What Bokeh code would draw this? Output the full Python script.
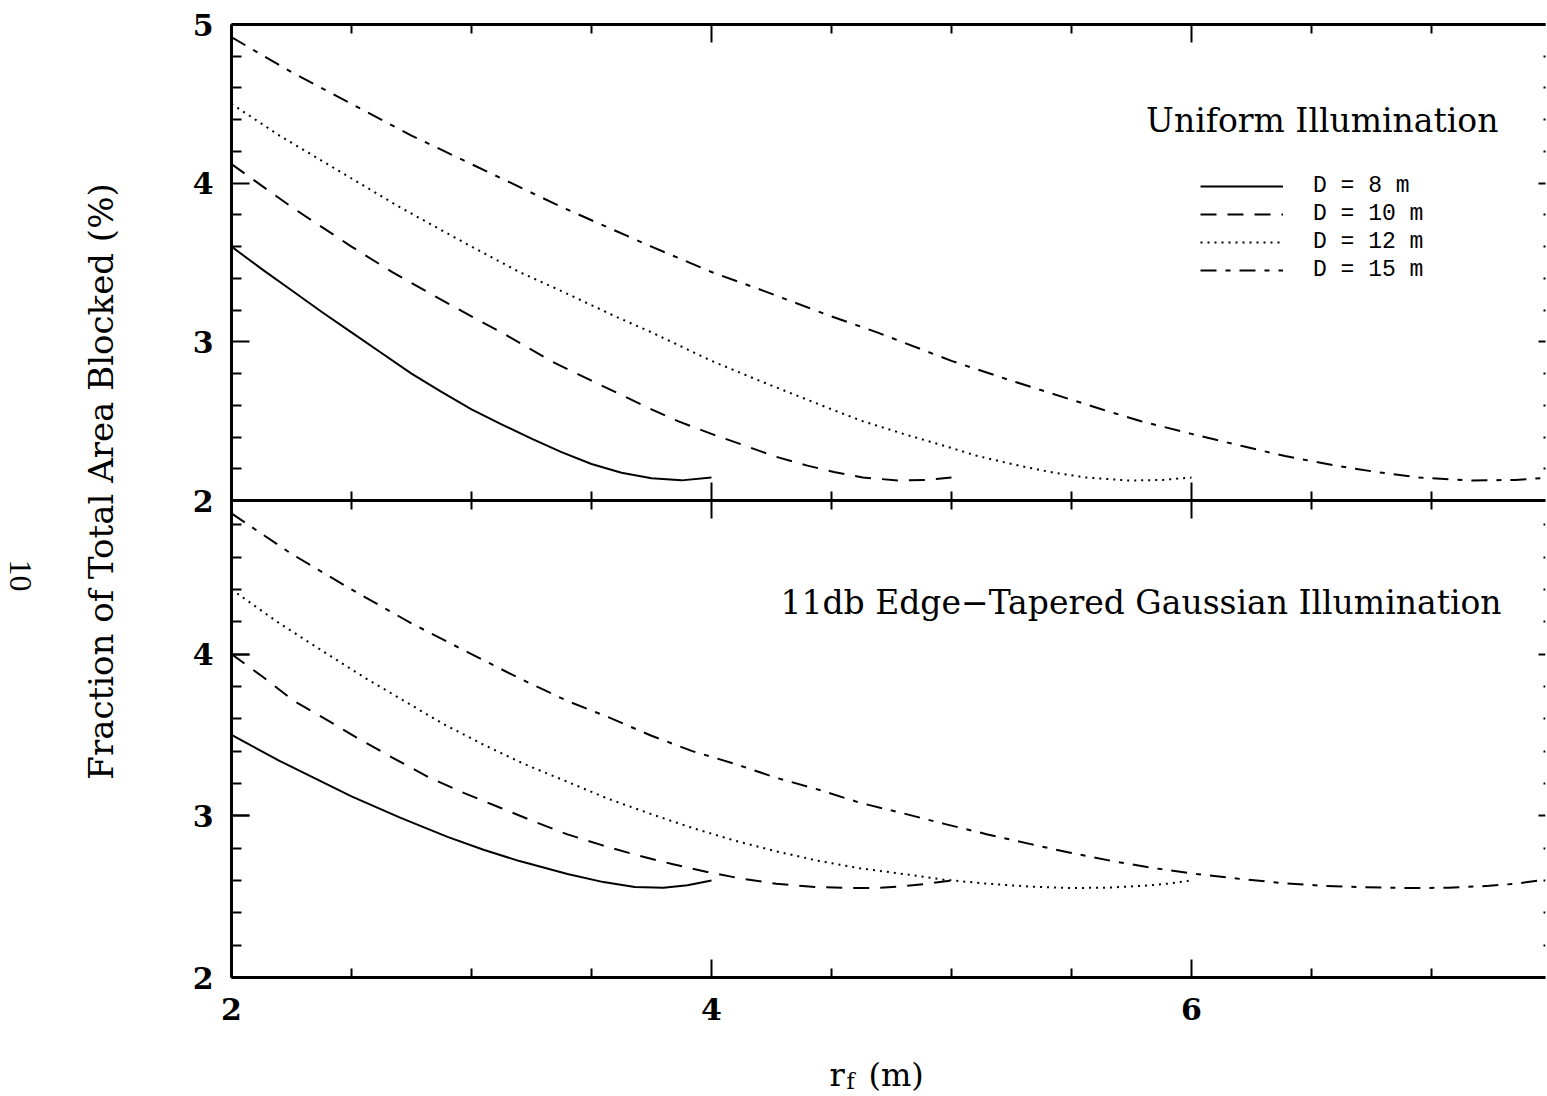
import math
from bokeh.plotting import figure
from bokeh.models import Range1d, LinearAxis, FixedTicker, Label, Legend, LegendItem
from bokeh.layouts import row, column
from bokeh.embed import file_html
from bokeh.resources import INLINE

# ---------------- data ----------------
series_labels = ["D = 8 m", "D = 10 m", "D = 12 m", "D = 15 m"]

# Uniform illumination (upper panel)
u8_x = [2.0, 2.125, 2.25, 2.375, 2.5, 2.625, 2.75, 2.875, 3.0, 3.125, 3.25, 3.375, 3.5, 3.625, 3.75, 3.875, 4.0]
u8_y = [3.60, 3.46, 3.325, 3.19, 3.06, 2.93, 2.80, 2.685, 2.575, 2.48, 2.39, 2.305, 2.23, 2.175, 2.14, 2.127, 2.145]
u10_x = [2.0, 2.25, 2.5, 2.67, 2.81, 3.0, 3.125, 3.33, 3.5, 3.75, 3.86, 4.0, 4.15, 4.26, 4.4, 4.51, 4.63, 4.78, 4.9, 5.0]
u10_y = [4.12, 3.85, 3.60, 3.44, 3.32, 3.16, 3.06, 2.88, 2.755, 2.575, 2.50, 2.42, 2.34, 2.28, 2.22, 2.18, 2.145, 2.126, 2.13, 2.145]
u12_x = [2.0, 2.2, 2.4, 2.7, 3.0, 3.2, 3.375, 3.6, 3.75, 4.0, 4.2, 4.5, 4.63, 4.8, 4.98, 5.11, 5.28, 5.41, 5.56, 5.74, 5.88, 6.0]
u12_y = [4.50, 4.30, 4.12, 3.85, 3.60, 3.44, 3.32, 3.16, 3.06, 2.88, 2.755, 2.575, 2.50, 2.42, 2.34, 2.28, 2.22, 2.18, 2.145, 2.126, 2.13, 2.145]
u15_x = [2.0, 2.25, 2.5, 2.75, 3.0, 3.375, 3.75, 4.0, 4.22, 4.5, 4.69, 5.0, 5.25, 5.625, 5.79, 6.0, 6.22, 6.39, 6.6, 6.77, 6.95, 7.17, 7.35, 7.5]
u15_y = [4.92, 4.70, 4.50, 4.30, 4.12, 3.85, 3.60, 3.44, 3.32, 3.16, 3.06, 2.88, 2.755, 2.575, 2.50, 2.42, 2.34, 2.28, 2.22, 2.18, 2.145, 2.126, 2.13, 2.145]

# 11db edge-tapered Gaussian illumination (lower panel)
g8_x = [2.0, 2.2, 2.35, 2.5, 2.7, 2.9, 3.05, 3.2, 3.4, 3.55, 3.68, 3.8, 3.9, 4.0]
g8_y = [3.50, 3.34, 3.23, 3.12, 2.99, 2.87, 2.79, 2.72, 2.64, 2.59, 2.56, 2.555, 2.57, 2.60]
g10_x = [2.0, 2.13, 2.26, 2.39, 2.52, 2.67, 2.82, 2.97, 3.12, 3.26, 3.4, 3.54, 3.68, 3.84, 3.99,
         4.13, 4.27, 4.43, 4.59, 4.7, 4.8, 4.9, 5.0]
g10_y = [4.00, 3.86, 3.71, 3.60, 3.485, 3.36, 3.24, 3.14, 3.05, 2.965, 2.885, 2.82, 2.76, 2.70, 2.65,
         2.61, 2.58, 2.56, 2.553, 2.555, 2.565, 2.58, 2.60]
g12_x = [2.0, 2.2, 2.4, 2.56, 2.72, 2.88, 3.05, 3.22, 3.4, 3.57, 3.75, 3.92, 4.1, 4.27, 4.45, 4.62,
         4.8, 4.97, 5.15, 5.33, 5.5, 5.65, 5.8, 5.9, 6.0]
g12_y = [4.40, 4.19, 4.00, 3.85, 3.71, 3.57, 3.44, 3.32, 3.21, 3.105, 3.01, 2.925, 2.845, 2.78, 2.72, 2.675,
         2.64, 2.605, 2.58, 2.562, 2.553, 2.556, 2.567, 2.58, 2.60]
g15_x = [2.0, 2.25, 2.5, 2.75, 3.0, 3.2, 3.4, 3.57, 3.75, 3.92, 4.1, 4.27, 4.45, 4.62, 4.8, 4.97,
         5.15, 5.33, 5.5, 5.67, 5.85, 6.02, 6.2, 6.37, 6.55, 6.72, 6.9, 7.07, 7.24, 7.35, 7.5]
g15_y = [4.87, 4.62, 4.40, 4.19, 4.00, 3.85, 3.71, 3.61, 3.495, 3.40, 3.32, 3.235, 3.16, 3.08, 3.015, 2.95,
         2.885, 2.825, 2.77, 2.72, 2.675, 2.64, 2.61, 2.585, 2.567, 2.558, 2.553, 2.555, 2.567, 2.58, 2.61]

# ticks
x_major = [2, 4, 6]
x_minor = [2.5, 3, 3.5, 4.5, 5, 5.5, 6.5, 7]
top_y_major = [2, 3, 4, 5]
bot_y_major = [2, 3, 4]
y_minor = [2.2, 2.4, 2.6, 2.8, 3.2, 3.4, 3.6, 3.8, 4.2, 4.4, 4.6, 4.8]

# ---------------- main figure ----------------
X_START, X_END = 2.0, 7.475
TOP_RANGE = (-1.006, 5.0)      # upper-panel scale (2..5 fills the upper half)
BOT_RANGE = (2.0, 7.894)       # lower-panel scale (2..4.95 fills the lower half)

y_main = Range1d(*TOP_RANGE)
p = figure(width=1399, height=1037,
           x_range=Range1d(X_START, X_END), y_range=y_main,
           x_axis_type=None, y_axis_type=None,
           toolbar_location=None, output_backend="svg",
           min_border_left=83, min_border_right=2, min_border_top=24, min_border_bottom=60,
           outline_line_color=None, background_fill_color="white", border_fill_color="white")
p.extra_y_ranges = {"bot": Range1d(*BOT_RANGE)}

TICK_FONT = "DejaVu Serif"


def style(ax, labels, major_in=18, minor_in=10, major_out=0, minor_out=0, line=True, standoff=18):
    ax.axis_line_width = 3
    ax.axis_line_color = "black" if line else None
    ax.major_tick_in = major_in
    ax.major_tick_out = major_out
    ax.minor_tick_in = minor_in
    ax.minor_tick_out = minor_out
    ax.major_tick_line_width = 2
    ax.minor_tick_line_width = 2
    ax.major_tick_line_color = "black"
    ax.minor_tick_line_color = "black"
    if labels:
        ax.major_label_text_font = TICK_FONT
        ax.major_label_text_font_style = "bold"
        ax.major_label_text_font_size = "30px"
        ax.major_label_text_color = "black"
        ax.major_label_standoff = standoff
    else:
        ax.major_label_standoff = 0
        ax.major_label_text_font_size = "0px"


def hide(ticks):
    return {t: "" for t in ticks}


def bot_to_top(v):
    """Position of a lower-panel value on the main (upper-panel) scale."""
    frac = (v - BOT_RANGE[0]) / (BOT_RANGE[1] - BOT_RANGE[0])
    return TOP_RANGE[0] + frac * (TOP_RANGE[1] - TOP_RANGE[0])


# left axis carrying all tick labels (upper + lower panel)
bot_pos = [bot_to_top(v) for v in bot_y_major]
left_overrides = {t: str(t) for t in top_y_major}
left_overrides.update({pos: str(v) for pos, v in zip(bot_pos, bot_y_major)})
ax = LinearAxis(ticker=FixedTicker(ticks=top_y_major + bot_pos, minor_ticks=y_minor),
                major_label_overrides=left_overrides)
style(ax, True, standoff=18)
p.add_layout(ax, "left")
# lower-panel minor ticks on the left edge
ax = LinearAxis(y_range_name="bot", fixed_location=X_START,
                ticker=FixedTicker(ticks=bot_y_major, minor_ticks=y_minor),
                major_label_overrides=hide(bot_y_major))
style(ax, False)
p.add_layout(ax, "left")

# right axes (inward ticks only)
ax = LinearAxis(ticker=FixedTicker(ticks=top_y_major, minor_ticks=y_minor),
                major_label_overrides=hide(top_y_major))
style(ax, False, major_in=7, minor_in=2, line=False)
p.add_layout(ax, "right")
ax = LinearAxis(y_range_name="bot", fixed_location=X_END,
                ticker=FixedTicker(ticks=bot_y_major, minor_ticks=y_minor),
                major_label_overrides=hide(bot_y_major))
style(ax, False, major_in=7, minor_in=2, line=False)
p.add_layout(ax, "right")

# bottom axis with labels
ax = LinearAxis(ticker=FixedTicker(ticks=x_major, minor_ticks=x_minor))
style(ax, True, major_in=18, minor_in=9, standoff=20)
p.add_layout(ax, "below")
# top axis
ax = LinearAxis(ticker=FixedTicker(ticks=x_major, minor_ticks=x_minor),
                major_label_overrides=hide(x_major))
style(ax, False, major_in=18, minor_in=9)
p.add_layout(ax, "above")
# middle dividing axis (ticks both ways)
ax = LinearAxis(fixed_location=2.0, ticker=FixedTicker(ticks=x_major, minor_ticks=x_minor),
                major_label_overrides=hide(x_major))
style(ax, False, major_in=18, minor_in=9, major_out=18, minor_out=9)
p.add_layout(ax, "above")

# ---------------- curves ----------------
dashes = ["solid", "16 11", "2 5", "16 9 5 9"]
upper = [(u8_x, u8_y), (u10_x, u10_y), (u12_x, u12_y), (u15_x, u15_y)]
lower = [(g8_x, g8_y), (g10_x, g10_y), (g12_x, g12_y), (g15_x, g15_y)]

top_renderers = []
for (xs, ys), d in zip(upper, dashes):
    r = p.line(xs, ys, line_color="black", line_width=2, line_dash=d, line_join="round")
    top_renderers.append(r)
for (xs, ys), d in zip(lower, dashes):
    p.line(xs, ys, line_color="black", line_width=2, line_dash=d, line_join="round",
           y_range_name="bot")

legend = Legend(items=[LegendItem(label=l, renderers=[r]) for l, r in zip(series_labels, top_renderers)],
                location=(969, 694), glyph_width=83, glyph_height=26, label_height=26,
                label_standoff=30, spacing=2, padding=0, margin=0,
                border_line_color=None, background_fill_alpha=0,
                label_text_font="Liberation Mono", label_text_font_size="23px",
                label_text_color="black")
p.add_layout(legend)

SERIF = "DejaVu Serif"
p.add_layout(Label(x=7.279, y=4.395, text="Uniform Illumination", text_align="right",
                   text_baseline="alphabetic", text_font=SERIF, text_font_size="33px",
                   text_color="black"))
p.add_layout(Label(x=7.292, y=4.319, y_range_name="bot",
                   text="11db Edge\u2212Tapered Gaussian Illumination", text_align="right",
                   text_baseline="alphabetic", text_font=SERIF, text_font_size="33px",
                   text_color="black"))

# ---------------- side text strips ----------------
# left strip shares the main vertical scale (its frame is aligned with the main frame)
left_fig = figure(width=148, height=1037, x_range=Range1d(0, 148), y_range=y_main,
                  x_axis_type=None, y_axis_type=None, toolbar_location=None, output_backend="svg",
                  min_border=0, min_border_left=0, min_border_right=0, min_border_top=0,
                  min_border_bottom=0, outline_line_color=None, border_fill_color="white",
                  background_fill_color="white")
left_fig.add_layout(Label(x=100, y=2.12, text="Fraction of Total Area Blocked (%)", angle=math.pi / 2,
                          text_align="center", text_baseline="middle", text_font=SERIF,
                          text_font_size="34px", text_color="black"))
left_fig.add_layout(Label(x=20, y=1.527, text="10", angle=-math.pi / 2,
                          text_align="center", text_baseline="middle", text_font="Liberation Serif",
                          text_font_size="32px", text_color="black"))

bottom_fig = figure(width=1547, height=59, x_range=Range1d(0, 1547), y_range=Range1d(0, 59),
                    x_axis_type=None, y_axis_type=None, toolbar_location=None, output_backend="svg",
                    min_border=0, min_border_left=0, min_border_right=0, min_border_top=0,
                    min_border_bottom=0, outline_line_color=None, border_fill_color="white",
                    background_fill_color="white")
bottom_fig.add_layout(Label(x=829, y=22, text="r", text_align="left", text_baseline="alphabetic",
                            text_font=SERIF, text_font_size="32px", text_color="black"))
bottom_fig.add_layout(Label(x=846, y=15, text="f", text_align="left", text_baseline="alphabetic",
                            text_font=SERIF, text_font_size="22px", text_color="black"))
bottom_fig.add_layout(Label(x=868, y=22, text="(m)", text_align="left", text_baseline="alphabetic",
                            text_font=SERIF, text_font_size="32px", text_color="black"))

layout = column(row(left_fig, p), bottom_fig)
open("out.html", "w").write(file_html(layout, INLINE))
